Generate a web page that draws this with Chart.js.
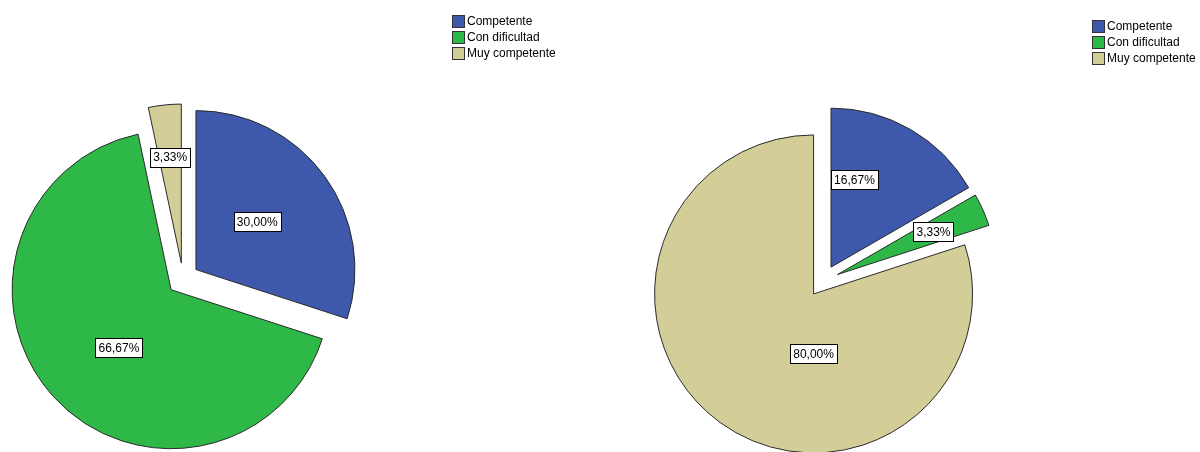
<!DOCTYPE html>
<html>
<head>
<meta charset="utf-8">
<script src="https://cdn.jsdelivr.net/npm/chart.js@4/dist/chart.umd.min.js"></script>
<style>
  body { margin:0; background:#fff; font-family:"Liberation Sans", Arial, sans-serif; }
  #wrap { position:relative; width:1200px; height:452px; overflow:hidden; }
  .pie { position:absolute; top:0; width:600px; height:452px; }
  .legend { position:absolute; font-size:12px; color:#000; line-height:16px; }
  .legend div { display:flex; align-items:center; height:16px; white-space:nowrap; }
  .legend span.box { width:11px; height:11px; border:1px solid #333; margin-right:2px; display:inline-block; }
</style>
</head>
<body>
<div id="wrap">
  <div class="pie" style="left:0"><canvas id="pie1"></canvas></div>
  <div class="pie" style="left:600px"><canvas id="pie2"></canvas></div>
  <div class="legend" id="leg1" style="left:452px;top:13px"></div>
  <div class="legend" id="leg2" style="left:1092px;top:18px"></div>
</div>
<script>
const categories = ["Competente", "Con dificultad", "Muy competente"];
const colors = ["#3E58AC", "#2EB848", "#D3CE97"];
const valuesLeft = [30.00, 66.67, 3.33];
const valuesRight = [16.67, 3.33, 80.00];

// where each label sits inside its slice: fraction along the arc, fraction of radius
const labelPosLeft = [[0.48, 0.49], [0.475, 0.49], [0.5, 0.67]];
const labelPosRight = [[0.25, 0.57], [0.5, 0.66], [0.375, 0.375]];

const EXPLODE = 16; // px every slice is pulled out from the centre

const fmt = v => v.toFixed(2).replace(".", ",") + "%";

// pull every slice out along its middle angle (plain translation, radius unchanged)
const explode = {
  id: "explode",
  afterDatasetsUpdate(chart) {
    chart.getDatasetMeta(0).data.forEach(arc => {
      const mid = (arc.startAngle + arc.endAngle) / 2;
      arc.x += Math.cos(mid) * EXPLODE;
      arc.y += Math.sin(mid) * EXPLODE;
    });
  }
};

const boxLabels = {
  id: "boxLabels",
  afterDatasetsDraw(chart, args, opts) {
    const ctx = chart.ctx;
    const meta = chart.getDatasetMeta(0);
    const vals = chart.data.datasets[0].data;
    ctx.save();
    ctx.font = "12px 'Liberation Sans', Arial, sans-serif";
    ctx.textAlign = "center";
    ctx.textBaseline = "middle";
    meta.data.forEach((arc, i) => {
      const [t, r] = opts.pos[i];
      const a = arc.startAngle + t * (arc.endAngle - arc.startAngle);
      const cx = arc.x + Math.cos(a) * arc.outerRadius * r;
      const cy = arc.y + Math.sin(a) * arc.outerRadius * r;
      const txt = fmt(vals[i]);
      const w = Math.round(ctx.measureText(txt).width + 6);
      const h = 19;
      const x0 = Math.round(cx - w / 2) + 0.5, y0 = Math.round(cy - h / 2) + 0.5;
      ctx.fillStyle = "#fff";
      ctx.fillRect(x0, y0, w, h);
      ctx.strokeStyle = "#000";
      ctx.lineWidth = 1;
      ctx.strokeRect(x0, y0, w, h);
      ctx.fillStyle = "#000";
      ctx.fillText(txt, cx, cy + 1);
    });
    ctx.restore();
  }
};

function makePie(id, values, pos, padding) {
  new Chart(document.getElementById(id), {
    type: "pie",
    data: {
      labels: categories,
      datasets: [{
        data: values,
        backgroundColor: colors,
        borderColor: "#2a2a2a",
        borderWidth: 1,
        offset: 0,
        hoverOffset: 0,
        clip: false
      }]
    },
    options: {
      responsive: true,
      maintainAspectRatio: false,
      animation: false,
      radius: 159,
      layout: { padding: padding },
      events: [],
      plugins: {
        legend: { display: false },
        tooltip: { enabled: false },
        boxLabels: { pos: pos }
      }
    },
    plugins: [explode, boxLabels]
  });
}

makePie("pie1", valuesLeft, labelPosLeft, { left: 0, right: 234, top: 106, bottom: 0 });
makePie("pie2", valuesRight, labelPosRight, { left: 0, right: 154, top: 110, bottom: 0 });

["leg1", "leg2"].forEach(id => {
  document.getElementById(id).innerHTML = categories.map((c, i) =>
    `<div><span class="box" style="background:${colors[i]}"></span>${c}</div>`).join("");
});
</script>
</body>
</html>
